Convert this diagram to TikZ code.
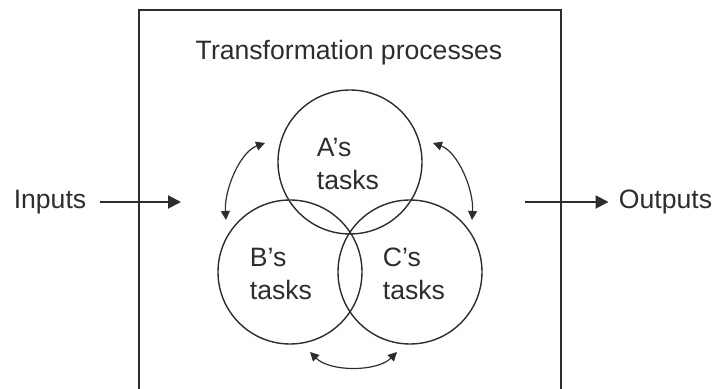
\documentclass[tikz,border=0pt]{standalone}
\usepackage{fontspec}
\setmainfont{Liberation Sans}
\usetikzlibrary{arrows.meta}

\begin{document}
\begin{tikzpicture}[x=0.5pt,y=0.5pt,yscale=-1,xscale=1,
  ink/.style={color={rgb,255:red,45;green,45;blue,45}},
  label/.style={ink,font=\fontsize{13.3}{16.5}\selectfont,inner sep=0pt},
  task/.style={circle,draw,ink,line width=0.7pt,minimum size=72pt,inner sep=0pt},
  flow/.style={ink,line width=1pt,-{Triangle[length=6.5pt,width=6.5pt]}},
  swap/.style={ink,line width=0.6pt,{Triangle[length=4.5pt,width=4.5pt]}-{Triangle[length=4.5pt,width=4.5pt]}}]
\useasboundingbox (0,0) rectangle (714,389);

%Shape: open box
\draw [ink,line width=1pt] (139,395) -- (139,10) -- (561,10) -- (561,395);

%Circles
\node [task] (A) at (350,162) {};
\node [task] (B) at (290,272) {};
\node [task] (C) at (410,272) {};

% Text Node
\node [label] (title) at (349,53) {Transformation processes};
% Text Node
\node [label,align=left] (Atext) at (348,164) {A’s\\tasks};
% Text Node
\node [label,align=left] (Btext) at (281,274) {B’s\\tasks};
% Text Node
\node [label,align=left] (Ctext) at (414,274) {C’s\\tasks};
% Text Node
\node [label,inner xsep=6.5pt] (inputs) at (50,202) {Inputs};
% Text Node
\node [label,inner xsep=5pt] (outputs) at (665.5,202) {Outputs};

%Arrow ends
\coordinate (intip) at (181,202);
\coordinate (outstart) at (525,202);
\coordinate (ABtop) at (265,143);
\coordinate (ABbot) at (226,220);
\coordinate (ACtop) at (433,143);
\coordinate (ACbot) at (472,220);
\coordinate (BCl) at (310,352);
\coordinate (BCr) at (397,352);

%Straight Lines
\draw [flow] (inputs.east) -- (intip);
\draw [flow] (outstart) -- (outputs.west);

%Curve Lines
\draw [swap] (ABtop) .. controls (240,152) and (224,190) .. (ABbot);
\draw [swap] (ACtop) .. controls (458,152) and (474,190) .. (ACbot);
\draw [swap] (BCl) .. controls (330,372) and (377,372) .. (BCr);

\end{tikzpicture}
\end{document}
